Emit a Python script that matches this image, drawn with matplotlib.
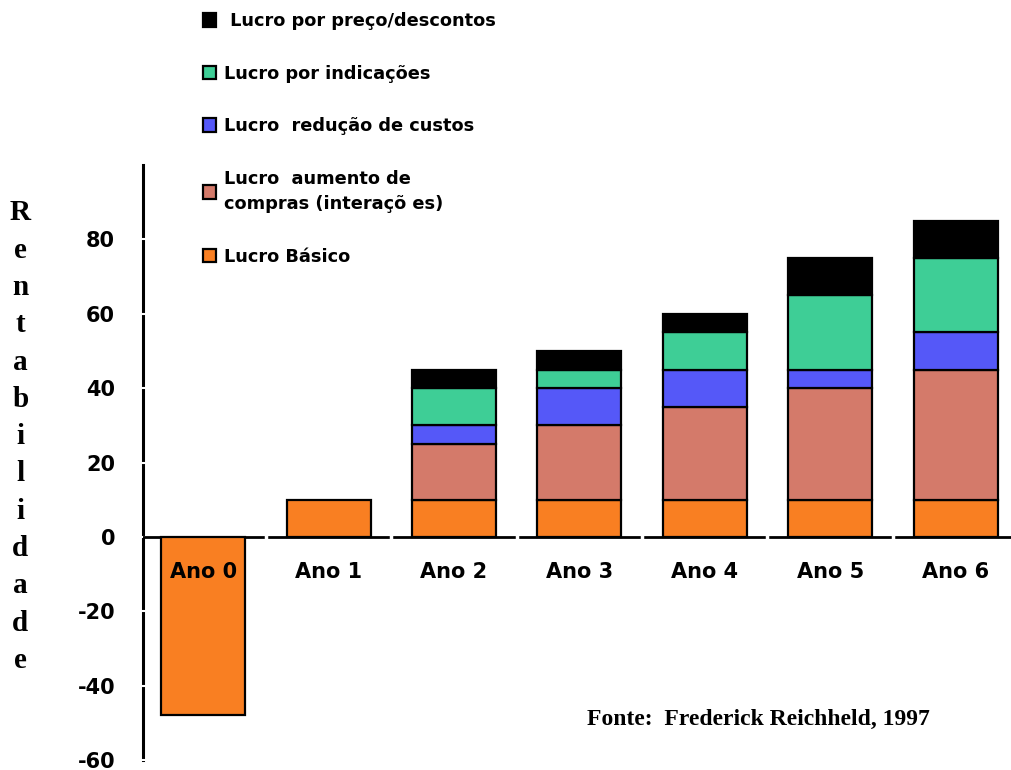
import matplotlib
matplotlib.use("Agg")
import matplotlib.pyplot as plt
from matplotlib.patches import Patch
import numpy as np

categories = ["Ano 0", "Ano 1", "Ano 2", "Ano 3", "Ano 4", "Ano 5", "Ano 6"]
lucro_basico = [-48, 10, 10, 10, 10, 10, 10]
lucro_aumento = [0, 0, 15, 20, 25, 30, 35]
lucro_reducao = [0, 0, 5, 10, 10, 5, 10]
lucro_indicacoes = [0, 0, 10, 5, 10, 20, 20]
lucro_preco = [0, 0, 5, 5, 5, 10, 10]

series_labels = [
    "Lucro Básico",
    "Lucro  aumento de\ncompras (interaçõ es)",
    "Lucro  redução de custos",
    "Lucro por indicações",
    " Lucro por preço/descontos",
]
series_colors = ["#F97F22", "#D47A6A", "#5558F8", "#3ECE96", "#000000"]
yticks = [-60, -40, -20, 0, 20, 40, 60, 80]

fig = plt.figure(figsize=(10.12, 7.70), dpi=100)
ax = fig.add_axes([0.1413, 0.013, 0.8587, 0.7727])

x = np.arange(len(categories))
series = [lucro_basico, lucro_aumento, lucro_reducao, lucro_indicacoes, lucro_preco]
bottom = np.zeros(len(categories))
for vals, col in zip(series, series_colors):
    vals = np.array(vals, dtype=float)
    mask = vals != 0
    ax.bar(x[mask], vals[mask], width=0.67, bottom=bottom[mask], color=col,
           edgecolor="black", linewidth=1.6, zorder=3)
    bottom = bottom + np.where(vals > 0, vals, 0)

# zero line with small gaps between categories
ax.axhline(0, color="black", linewidth=2, zorder=2)
ax.vlines(x[:-1] + 0.5, -0.6, 0.6, color="white", linewidth=2.5, zorder=2.5)

for s in ["top", "right", "bottom"]:
    ax.spines[s].set_visible(False)
ax.spines["left"].set_linewidth(2.2)
ax.spines["left"].set_zorder(1)
ax.set_xticks([])
ax.set_yticks(yticks)
ax.set_yticklabels([str(v) for v in yticks], fontsize=15, fontweight="bold",
                   family="DejaVu Sans")
ax.tick_params(axis="y", color="white", width=1.5, length=6, direction="inout", pad=17)
ax.set_xlim(-0.48, 6.45)
ax.set_ylim(-60, 100)

for xi, lab in zip(x, categories):
    ax.text(xi, -9.5, lab, ha="center", va="center", fontsize=15,
            fontweight="bold", family="DejaVu Sans", zorder=4)

fig.text(0.02, 0.433, "\n".join("Rentabilidade"), ha="center", va="center",
         fontsize=21, fontweight="bold", family="Liberation Serif", linespacing=1.49)

fig.text(0.58, 0.065, "Fonte:  Frederick Reichheld, 1997", ha="left", va="center",
         fontsize=17, fontweight="bold", family="Liberation Serif")

handles = [Patch(facecolor=c, edgecolor="black", linewidth=1.6) for c in series_colors]
leg = fig.legend(handles[::-1], series_labels[::-1], loc="upper left",
                 bbox_to_anchor=(0.192, 0.996), frameon=False, borderpad=0,
                 handlelength=0.7, handleheight=0.8, handletextpad=0.45,
                 labelspacing=1.95, prop={"family": "DejaVu Sans", "weight": "bold", "size": 12.8})
for t in leg.get_texts():
    t.set_linespacing(1.5)

fig.savefig("out.png", dpi=100)
